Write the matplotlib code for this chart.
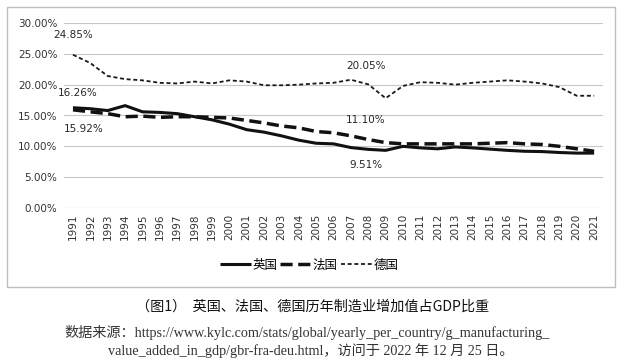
import numpy as np
import matplotlib
matplotlib.use('Agg')
import matplotlib.pyplot as plt
from matplotlib.patches import Rectangle
from matplotlib.ticker import FuncFormatter

plt.rcParams['font.family'] = ['DejaVu Sans', 'Noto Sans CJK SC']

years = [str(y) for y in range(1991, 2022)]
uk = [16.26, 16.1, 15.8, 16.6, 15.6, 15.5, 15.3, 14.8, 14.3, 13.6, 12.7, 12.3, 11.7, 11.0, 10.5,
      10.4, 9.8, 9.51, 9.35, 10.0, 9.75, 9.6, 9.9, 9.75, 9.55, 9.35, 9.2, 9.15, 9.0, 8.9, 8.9]
france = [15.92, 15.6, 15.3, 14.8, 14.9, 14.7, 14.8, 14.8, 14.7, 14.6, 14.2, 13.8, 13.3, 13.0, 12.4,
          12.2, 11.7, 11.10, 10.6, 10.4, 10.4, 10.4, 10.4, 10.4, 10.5, 10.6, 10.4, 10.3, 10.0, 9.6, 9.2]
germany = [24.85, 23.5, 21.4, 20.9, 20.7, 20.3, 20.2, 20.5, 20.2, 20.7, 20.5, 19.9, 19.9, 20.0, 20.2,
           20.3, 20.8, 20.05, 17.8, 19.8, 20.4, 20.3, 20.0, 20.3, 20.5, 20.7, 20.5, 20.2, 19.6, 18.2, 18.2]
series_names = ['英国', '法国', '德国']
yticks = [0, 5, 10, 15, 20, 25, 30]

W, H = 622, 360
fig = plt.figure(figsize=(W / 100, H / 100), dpi=100)

# chart frame
fig.patches.append(Rectangle((7.5 / W, 1 - 287 / H), 607.5 / W, 280 / H, transform=fig.transFigure,
                             fill=False, edgecolor='#bfbfbf', linewidth=1))

ax = fig.add_axes([64.3 / W, 1 - 208 / H, 538.5 / W, 185 / H])
x = np.arange(len(years))
ax.plot(x, uk, color='#111111', lw=2.2, label=series_names[0], solid_capstyle='butt')
ax.plot(x, france, color='#111111', lw=2.5, dashes=(3.5, 1.6), label=series_names[1])
ax.plot(x, germany, color='#1a1a1a', lw=1.3, dashes=(2.2, 1.5), label=series_names[2])

ax.set_xlim(-0.5, len(years) - 0.5)
ax.set_ylim(0, 30)
ax.set_yticks(yticks)
ax.yaxis.set_major_formatter(FuncFormatter(lambda v, p: f'{v:.2f}%'))
ax.set_xticks(x)
ax.set_xticklabels(years, rotation=90)
ax.grid(axis='y', color='#c8c8c8', lw=0.8)
ax.set_axisbelow(True)
for s in ax.spines.values():
    s.set_visible(False)
ax.tick_params(axis='both', length=0, labelsize=7.5, labelcolor='#333333')
ax.tick_params(axis='y', pad=5)
ax.tick_params(axis='x', pad=4)

# value labels
notes = [(0, germany[0], 0, 14), (0, uk[0], 3.2, 10.8), (0, france[0], 7.6, -13.7),
         (17, germany[17], -1.5, 13.5), (17, france[17], -2, 14), (17, uk[17], -1.5, -11.5)]
for i, v, dx, dy in notes:
    ax.annotate(f'{v:.2f}%', xy=(i, v), xytext=(dx, dy), textcoords='offset points',
                ha='center', va='center', fontsize=7.5, color='#262626')

fig.legend(loc='center', bbox_to_anchor=(309 / W, 1 - 265 / H), ncol=3, frameon=False,
           prop={'family': ['Noto Sans CJK SC'], 'size': 9}, handlelength=2.5,
           handletextpad=0.1, columnspacing=0.25)

fig.text(313 / W, 1 - 307 / H, '（图1）  英国、法国、德国历年制造业增加值占GDP比重',
         ha='center', va='center', fontsize=10.2,
         family=['Noto Sans CJK SC'], color='#111111')
src_font = ['Liberation Serif', 'Noto Sans CJK SC']
fig.text(307 / W, 1 - 332 / H,
         '数据来源：https://www.kylc.com/stats/global/yearly_per_country/g_manufacturing_',
         ha='center', va='center', fontsize=10.2, family=src_font, color='#333333')
fig.text(311 / W, 1 - 351 / H, 'value_added_in_gdp/gbr-fra-deu.html，访问于 2022 年 12 月 25 日。',
         ha='center', va='center', fontsize=10.2, family=src_font, color='#333333')

fig.savefig('out.png', dpi=100, facecolor='white')
